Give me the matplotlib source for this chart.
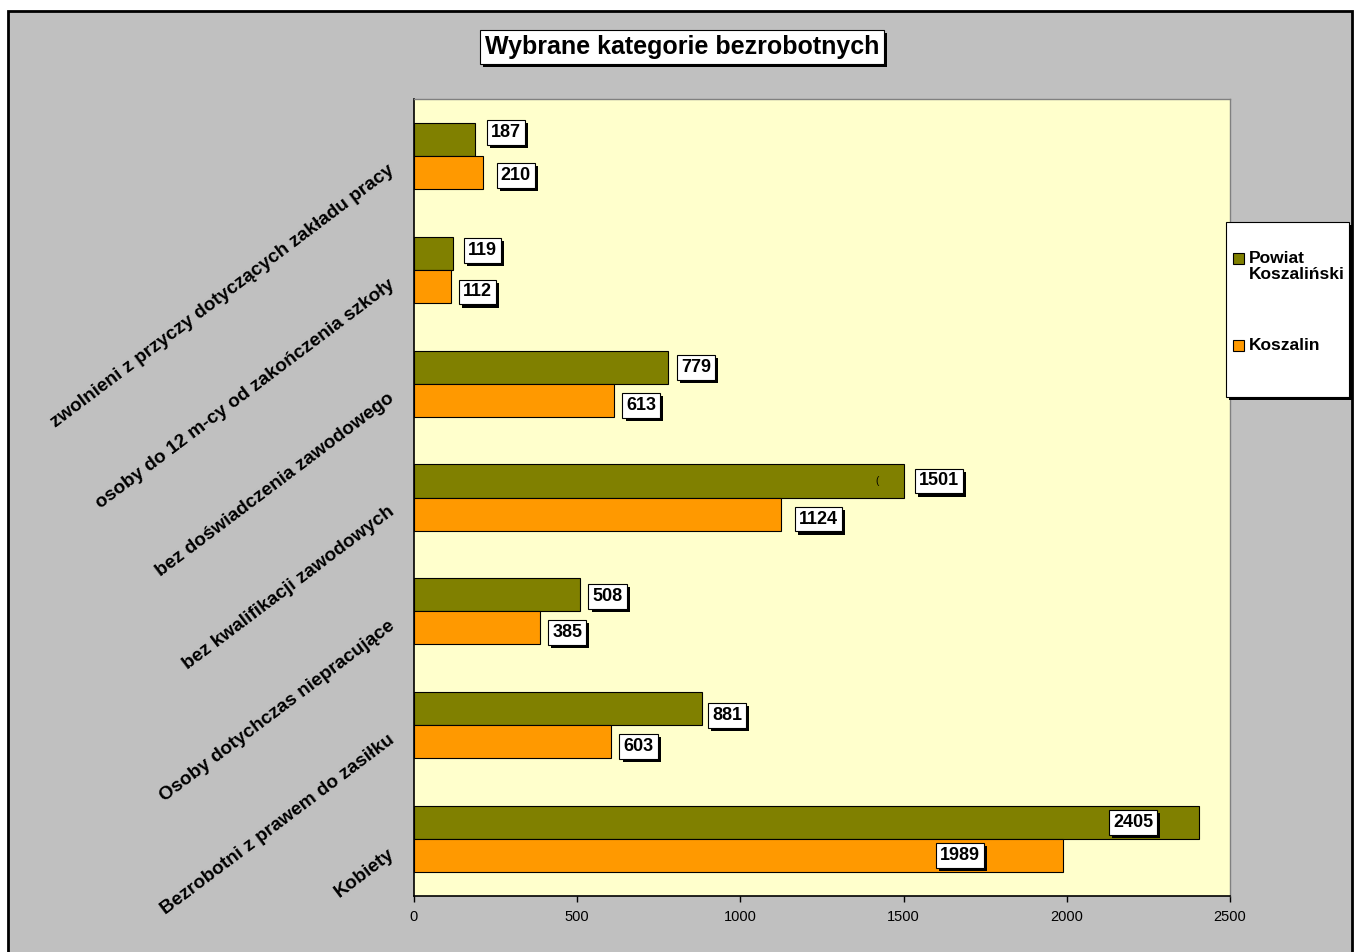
import matplotlib
matplotlib.use("Agg")
import matplotlib.pyplot as plt
from matplotlib.patches import Rectangle
from matplotlib.transforms import ScaledTranslation
import matplotlib.patheffects as pe
import numpy as np

plt.rcParams['font.family'] = ['Liberation Sans', 'DejaVu Sans']

title = "Wybrane kategorie bezrobotnych"
categories = [
    "Kobiety",
    "Bezrobotni z prawem do zasiłku",
    "Osoby dotychczas niepracujące",
    "bez kwalifikacji zawodowych",
    "bez doświadczenia zawodowego",
    "osoby do 12 m-cy od zakończenia szkoły",
    "zwolnieni z przyczy dotyczących zakładu pracy",
]
series_names = ["Powiat\nKoszaliński", "Koszalin"]
powiat = [2405, 881, 508, 1501, 779, 119, 187]
koszalin = [1989, 603, 385, 1124, 613, 112, 210]
xticks = [0, 500, 1000, 1500, 2000, 2500]

# data-label offsets (points) from the bar end; negative dx = inside bar, right-aligned
powiat_label_dx = [-33, 7.7, 9.1, 10.8, 9.4, 10.8, 11.5]
powiat_label_dy = [0, -4.8, -1.4, 0, 0, 1.8, 4.7]
koszalin_label_dx = [-60, 9.1, 9.1, 13, 8.9, 8.9, 13]
koszalin_label_dy = [0, -3.1, -3.5, -3.6, -4, -4.1, -2.5]

OLIVE = "#808000"
ORANGE = "#FF9900"
GRAY = "#C0C0C0"
YELLOW = "#FFFFCC"

W, H = 1356, 952
fig = plt.figure(figsize=(W / 100, H / 100), dpi=100, facecolor="white")

def fx(px):
    return px / W

def fy(py):
    return 1 - py / H

shadow = [pe.SimplePatchShadow(offset=(2.2, -2.2), shadow_rgbFace="black", alpha=1.0), pe.Normal()]

# outer gray chart area with border
fig.patches.append(Rectangle((fx(8), fy(960)), fx(1352) - fx(8), fy(11) - fy(960),
                             transform=fig.transFigure, facecolor=GRAY,
                             edgecolor="black", linewidth=2, zorder=-10))

ax = fig.add_axes([fx(414), fy(896), fx(1230) - fx(414), fy(99) - fy(896)])
ax.set_facecolor(YELLOW)
ax.set_xlim(0, 2500)
ax.set_ylim(-0.5, len(categories) - 0.5)

y = np.arange(len(categories))
bh = 0.29
ax.barh(y + bh / 2, powiat, height=bh, color=OLIVE, edgecolor="black", linewidth=0.8, zorder=2)
ax.barh(y - bh / 2, koszalin, height=bh, color=ORANGE, edgecolor="black", linewidth=0.8, zorder=2)

def value_label(xv, yv, dx, dy):
    ha = "left" if dx >= 0 else "right"
    ax.annotate(str(xv), xy=(xv, yv), xytext=(dx, dy), textcoords="offset points",
                ha=ha, va="center", fontsize=13, fontweight="bold", color="black",
                annotation_clip=False, zorder=6,
                bbox=dict(boxstyle="square,pad=0.22", fc="white", ec="black", lw=0.8,
                          path_effects=shadow))

for i in range(len(categories)):
    value_label(powiat[i], y[i] + bh / 2, powiat_label_dx[i], powiat_label_dy[i])
    value_label(koszalin[i], y[i] - bh / 2, koszalin_label_dx[i], koszalin_label_dy[i])

# stray glyph visible in the original inside one bar
ax.text(1418, y[3] + bh / 2, "(", fontsize=7, ha="center", va="center", zorder=3)

ax.set_xticks(xticks)
ax.set_xticklabels([str(t) for t in xticks], fontsize=10.5)
ax.tick_params(axis="x", direction="out", length=4, width=1, color="black", pad=6)
ax.set_yticks([])
for s in ["left", "bottom"]:
    ax.spines[s].set_color("black")
    ax.spines[s].set_linewidth(1.2)
for s in ["top", "right"]:
    ax.spines[s].set_color("#808080")
    ax.spines[s].set_linewidth(1)

# rotated category labels
for i, cat in enumerate(categories):
    tr = ax.get_yaxis_transform() + ScaledTranslation(-26.5 / 100, -6 / 100, fig.dpi_scale_trans)
    ax.text(0, y[i], cat, transform=tr, rotation=37, rotation_mode="anchor",
            ha="right", va="top", fontsize=13.7, fontweight="bold", clip_on=False)

# title with shadow box
fig.text(fx(682), fy(47), title, ha="center", va="center", fontsize=18, fontweight="bold",
         color="black",
         bbox=dict(boxstyle="square,pad=0.2", fc="white", ec="black", lw=0.8, path_effects=shadow))

# legend (manual, box with shadow)
fig.patches.append(Rectangle((fx(1226), fy(397)), fx(1349) - fx(1226), fy(222) - fy(397),
                             transform=fig.transFigure, facecolor="white", edgecolor="black",
                             linewidth=0.8, zorder=11, path_effects=shadow))
leg_y = [258, 345]
for name, col, ly in zip(series_names, [OLIVE, ORANGE], leg_y):
    fig.patches.append(Rectangle((fx(1233), fy(ly + 5.5)), fx(11), 11 / H, transform=fig.transFigure,
                                 facecolor=col, edgecolor="black", linewidth=0.8, zorder=12))
    fig.text(fx(1249), fy(ly - 7), name, ha="left", va="top", fontsize=12.5, fontweight="bold",
             linespacing=1.1, zorder=13)

fig.savefig("out.png", dpi=100, facecolor="white")
